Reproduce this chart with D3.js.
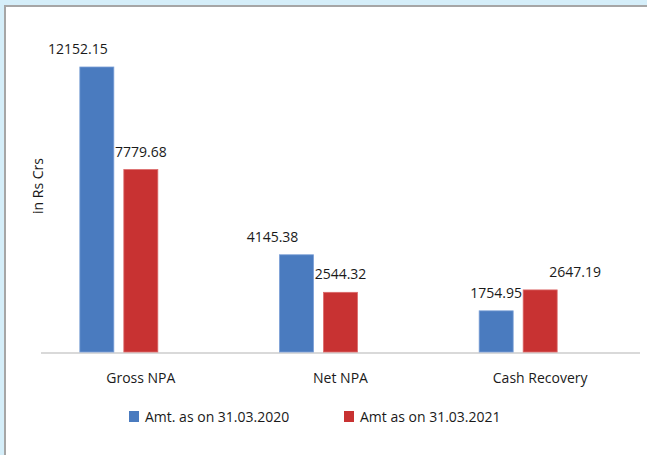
<!DOCTYPE html>
<html>
<head>
<meta charset="utf-8">
<script src="https://cdn.jsdelivr.net/npm/d3@7"></script>
<style>
  html, body { margin: 0; padding: 0; background: #d5eef9; }
  svg { display: block; font-family: "Open Sans", "Noto Sans", sans-serif; }
</style>
</head>
<body>
<div id="chart"></div>
<script>
// chart data
const categories = ['Gross NPA', 'Net NPA', 'Cash Recovery'];
const seriesNames = ['Amt. as on 31.03.2020', 'Amt as on 31.03.2021'];
const amt2020 = [12152.15, 4145.38, 1754.95];
const amt2021 = [7779.68, 2544.32, 2647.19];
const colors = ['#4a7bbf', '#c83232'];

// label nudges, like the reference where excel moved some labels sideways
const labelDx = [[-19, -24, 0], [0, 0, 35]];

const width = 647;
const height = 455;
const margin = {left: 41, right: 7, top: 0, bottom: 103};
const fontSize = '14px';

const svg = d3.select('#chart')
    .append('svg')
    .attr('width', width)
    .attr('height', height);

// window frame: grey edges on the light blue
svg.append('rect')
    .attr('x', 4).attr('y', 5)
    .attr('width', width - 4).attr('height', height - 5)
    .attr('fill', '#a6a6a6');
svg.append('rect')
    .attr('x', 6).attr('y', 7)
    .attr('width', width - 6).attr('height', height - 7)
    .attr('fill', '#ffffff');

const x = d3.scaleBand()
    .domain(categories)
    .range([margin.left, width - margin.right]);

const y = d3.scaleLinear()
    .domain([0, 12152.15])
    .range([352, 67]);

const barW = 34;
const barShift = -22; // bars sit left of the band centre in the reference
const series = [amt2020, amt2021];

// x axis line
svg.append('line')
    .attr('x1', margin.left).attr('x2', width - margin.right)
    .attr('y1', y(0) + 1).attr('y2', y(0) + 1)
    .attr('stroke', '#d9d9d9')
    .attr('stroke-width', 2);

series.forEach(function(vals, s) {
  const g = svg.append('g').attr('class', 'series-' + s);
  const cx = d => x(d) + x.bandwidth() / 2 + barShift + (s === 0 ? -22 : 22);

  g.selectAll('rect')
      .data(categories)
      .join('rect')
      .attr('x', d => cx(d) - barW / 2)
      .attr('y', (d, i) => y(vals[i]))
      .attr('width', barW)
      .attr('height', (d, i) => y(0) - y(vals[i]))
      .attr('fill', colors[s])
      .attr('stroke', s === 0 ? '#7a9fd6' : '#dc6a6a')
      .attr('stroke-width', 0.8);

  g.selectAll('text')
      .data(categories)
      .join('text')
      .attr('x', (d, i) => cx(d) + labelDx[s][i])
      .attr('y', (d, i) => y(vals[i]) - 13)
      .attr('text-anchor', 'middle')
      .attr('font-size', fontSize)
      .attr('fill', '#1a1a1a')
      .text((d, i) => vals[i].toFixed(2));
});

// category labels
svg.selectAll('.cat')
    .data(categories)
    .join('text')
    .attr('class', 'cat')
    .attr('x', d => x(d) + x.bandwidth() / 2)
    .attr('y', 383)
    .attr('text-anchor', 'middle')
    .attr('font-size', fontSize)
    .attr('fill', '#1a1a1a')
    .text(d => d);

// y axis title
svg.append('text')
    .attr('transform', 'translate(43,186) rotate(-90)')
    .attr('text-anchor', 'middle')
    .attr('font-size', fontSize)
    .attr('fill', '#1a1a1a')
    .text('in Rs Crs');

// legend
const legendX = [129, 344];
const legend = svg.selectAll('.legend')
    .data(seriesNames)
    .join('g')
    .attr('class', 'legend')
    .attr('transform', (d, i) => 'translate(' + legendX[i] + ',411)');
legend.append('rect')
    .attr('width', 10).attr('height', 11)
    .attr('fill', (d, i) => colors[i]);
legend.append('text')
    .attr('x', 16).attr('y', 10.5)
    .attr('font-size', fontSize)
    .attr('fill', '#1a1a1a')
    .text(d => d);
</script>
</body>
</html>
